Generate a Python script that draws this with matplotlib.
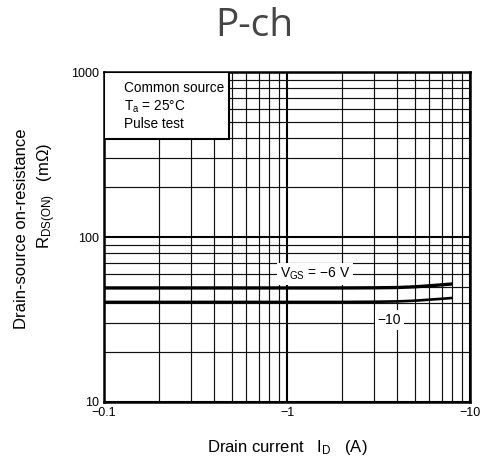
import matplotlib
matplotlib.use("Agg")
import matplotlib.pyplot as plt
from matplotlib.ticker import FixedLocator, LogLocator, NullFormatter

plt.rcParams['font.family'] = ['Liberation Sans', 'DejaVu Sans']
plt.rcParams['mathtext.fontset'] = 'custom'
plt.rcParams['mathtext.rm'] = 'Liberation Sans'
plt.rcParams['mathtext.it'] = 'Liberation Sans'

# drain current |ID| (A) and on-resistance (mOhm)
id_6v = [0.1, 0.5, 1.0, 2.0, 3.0, 4.0, 5.0, 6.0, 7.0, 8.0]
r_6v = [49.1, 49.1, 49.1, 49.1, 49.2, 49.4, 49.9, 50.6, 51.3, 51.9]
id_10v = [0.1, 0.5, 1.0, 2.0, 3.0, 4.0, 5.0, 6.0, 7.0, 8.0]
r_10v = [40.4, 40.4, 40.4, 40.4, 40.5, 40.7, 41.1, 41.7, 42.2, 42.7]

xticks = [0.1, 1, 10]
xticklabels = ["\u22120.1", "\u22121", "\u221210"]
yticks = [10, 100, 1000]
yticklabels = ["10", "100", "1000"]

fig = plt.figure(figsize=(4.8, 4.62), dpi=100)
ax = fig.add_axes([0.217, 0.130, 0.762, 0.714])

ax.plot(id_6v, r_6v, color='black', lw=2.4, solid_capstyle='butt')
ax.plot(id_10v, r_10v, color='black', lw=1.9, solid_capstyle='butt')

ax.set_xscale('log')
ax.set_yscale('log')
ax.set_xlim(0.1, 10)
ax.set_ylim(10, 1000)
ax.xaxis.set_major_locator(FixedLocator(xticks))
ax.yaxis.set_major_locator(FixedLocator(yticks))
ax.xaxis.set_minor_locator(LogLocator(base=10, subs=range(2, 10)))
ax.yaxis.set_minor_locator(LogLocator(base=10, subs=range(2, 10)))
ax.xaxis.set_minor_formatter(NullFormatter())
ax.yaxis.set_minor_formatter(NullFormatter())
ax.set_xticklabels(xticklabels)
ax.set_yticklabels(yticklabels)
ax.tick_params(which='both', length=0, labelsize=9, pad=4)
ax.grid(which='major', color='black', lw=1.5)
ax.grid(which='minor', color='#111111', lw=0.85)
for s in ax.spines.values():
    s.set_linewidth(1.8)

ax.text(0.577, 0.388, "V$_{\\rm GS}$ = \u22126 V",
        transform=ax.transAxes, ha='center', va='center', fontsize=10,
        bbox=dict(facecolor='white', edgecolor='none', pad=2))
ax.text(0.78, 0.248, "\u221210", transform=ax.transAxes, ha='center',
        va='center', fontsize=10,
        bbox=dict(facecolor='white', edgecolor='none', pad=2))

# info box
box = plt.Rectangle((0, 0.797), 0.342, 0.203, transform=ax.transAxes,
                    facecolor='white', edgecolor='black', lw=1.5, zorder=3)
ax.add_patch(box)
ax.text(0.055, 0.952, "Common source", transform=ax.transAxes, fontsize=9.8,
        va='center', zorder=4)
ax.text(0.055, 0.894, r"T$_{\rm a}$ = 25°C", transform=ax.transAxes,
        fontsize=9.8, va='center', zorder=4)
ax.text(0.055, 0.842, "Pulse test", transform=ax.transAxes, fontsize=9.8,
        va='center', zorder=4)

fig.text(0.598, 0.032, r"Drain current   I$_{\rm D}$   (A)", ha='center',
         va='center', fontsize=12)
fig.text(0.045, 0.504, "Drain-source on-resistance", rotation=90,
         ha='center', va='center', fontsize=12)
fig.text(0.098, 0.576, r"R$_{\rm DS(ON)}$   (m$\Omega$)", rotation=90,
         ha='center', va='center', fontsize=12)

fig.text(0.529, 0.944, "P-ch", ha='center', va='center', fontsize=28,
         color='#454545', family='Open Sans')

fig.savefig("out.png", dpi=100)
